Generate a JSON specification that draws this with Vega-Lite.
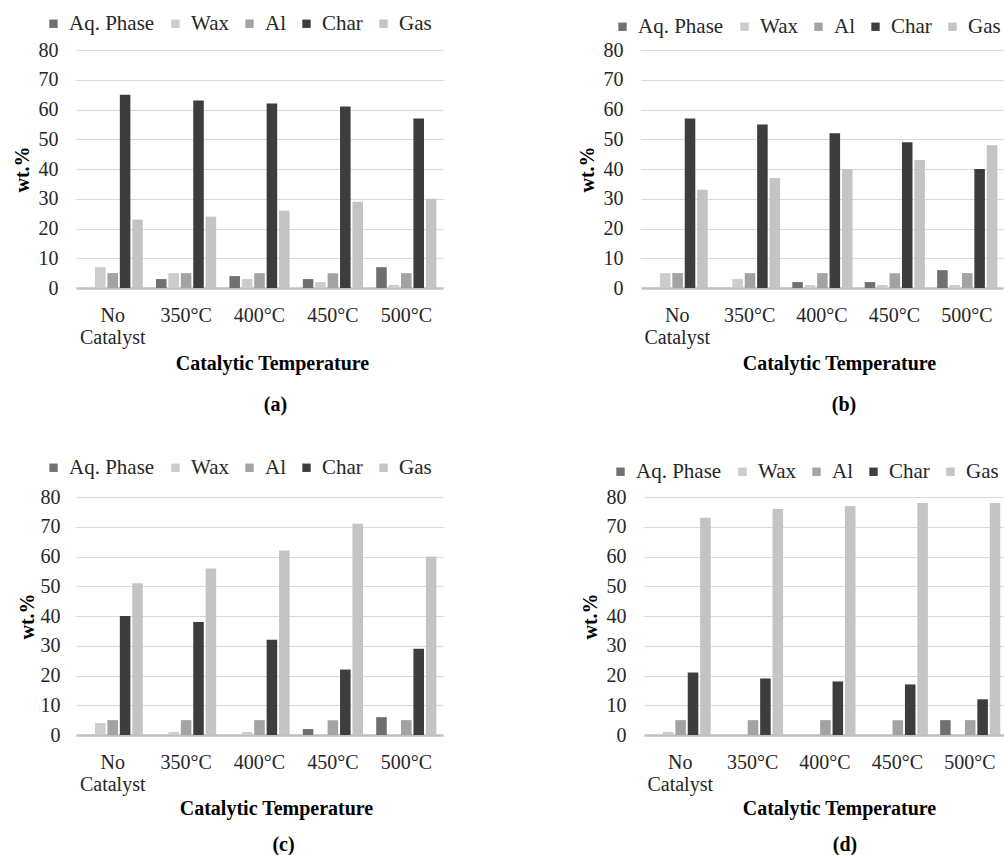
{
  "$schema": "https://vega.github.io/schema/vega-lite/v6.json",
  "padding": {"left": 12, "top": 13, "right": 0, "bottom": 0},
  "datasets": {
    "d": [
      {"panel": "a", "cat": "No Catalyst", "series": "Aq. Phase", "value": 0},
      {"panel": "a", "cat": "No Catalyst", "series": "Wax", "value": 7},
      {"panel": "a", "cat": "No Catalyst", "series": "Al", "value": 5},
      {"panel": "a", "cat": "No Catalyst", "series": "Char", "value": 65},
      {"panel": "a", "cat": "No Catalyst", "series": "Gas", "value": 23},
      {"panel": "a", "cat": "350°C", "series": "Aq. Phase", "value": 3},
      {"panel": "a", "cat": "350°C", "series": "Wax", "value": 5},
      {"panel": "a", "cat": "350°C", "series": "Al", "value": 5},
      {"panel": "a", "cat": "350°C", "series": "Char", "value": 63},
      {"panel": "a", "cat": "350°C", "series": "Gas", "value": 24},
      {"panel": "a", "cat": "400°C", "series": "Aq. Phase", "value": 4},
      {"panel": "a", "cat": "400°C", "series": "Wax", "value": 3},
      {"panel": "a", "cat": "400°C", "series": "Al", "value": 5},
      {"panel": "a", "cat": "400°C", "series": "Char", "value": 62},
      {"panel": "a", "cat": "400°C", "series": "Gas", "value": 26},
      {"panel": "a", "cat": "450°C", "series": "Aq. Phase", "value": 3},
      {"panel": "a", "cat": "450°C", "series": "Wax", "value": 2},
      {"panel": "a", "cat": "450°C", "series": "Al", "value": 5},
      {"panel": "a", "cat": "450°C", "series": "Char", "value": 61},
      {"panel": "a", "cat": "450°C", "series": "Gas", "value": 29},
      {"panel": "a", "cat": "500°C", "series": "Aq. Phase", "value": 7},
      {"panel": "a", "cat": "500°C", "series": "Wax", "value": 1},
      {"panel": "a", "cat": "500°C", "series": "Al", "value": 5},
      {"panel": "a", "cat": "500°C", "series": "Char", "value": 57},
      {"panel": "a", "cat": "500°C", "series": "Gas", "value": 30},

      {"panel": "b", "cat": "No Catalyst", "series": "Aq. Phase", "value": 0},
      {"panel": "b", "cat": "No Catalyst", "series": "Wax", "value": 5},
      {"panel": "b", "cat": "No Catalyst", "series": "Al", "value": 5},
      {"panel": "b", "cat": "No Catalyst", "series": "Char", "value": 57},
      {"panel": "b", "cat": "No Catalyst", "series": "Gas", "value": 33},
      {"panel": "b", "cat": "350°C", "series": "Aq. Phase", "value": 0},
      {"panel": "b", "cat": "350°C", "series": "Wax", "value": 3},
      {"panel": "b", "cat": "350°C", "series": "Al", "value": 5},
      {"panel": "b", "cat": "350°C", "series": "Char", "value": 55},
      {"panel": "b", "cat": "350°C", "series": "Gas", "value": 37},
      {"panel": "b", "cat": "400°C", "series": "Aq. Phase", "value": 2},
      {"panel": "b", "cat": "400°C", "series": "Wax", "value": 1},
      {"panel": "b", "cat": "400°C", "series": "Al", "value": 5},
      {"panel": "b", "cat": "400°C", "series": "Char", "value": 52},
      {"panel": "b", "cat": "400°C", "series": "Gas", "value": 40},
      {"panel": "b", "cat": "450°C", "series": "Aq. Phase", "value": 2},
      {"panel": "b", "cat": "450°C", "series": "Wax", "value": 1},
      {"panel": "b", "cat": "450°C", "series": "Al", "value": 5},
      {"panel": "b", "cat": "450°C", "series": "Char", "value": 49},
      {"panel": "b", "cat": "450°C", "series": "Gas", "value": 43},
      {"panel": "b", "cat": "500°C", "series": "Aq. Phase", "value": 6},
      {"panel": "b", "cat": "500°C", "series": "Wax", "value": 1},
      {"panel": "b", "cat": "500°C", "series": "Al", "value": 5},
      {"panel": "b", "cat": "500°C", "series": "Char", "value": 40},
      {"panel": "b", "cat": "500°C", "series": "Gas", "value": 48},

      {"panel": "c", "cat": "No Catalyst", "series": "Aq. Phase", "value": 0},
      {"panel": "c", "cat": "No Catalyst", "series": "Wax", "value": 4},
      {"panel": "c", "cat": "No Catalyst", "series": "Al", "value": 5},
      {"panel": "c", "cat": "No Catalyst", "series": "Char", "value": 40},
      {"panel": "c", "cat": "No Catalyst", "series": "Gas", "value": 51},
      {"panel": "c", "cat": "350°C", "series": "Aq. Phase", "value": 0},
      {"panel": "c", "cat": "350°C", "series": "Wax", "value": 1},
      {"panel": "c", "cat": "350°C", "series": "Al", "value": 5},
      {"panel": "c", "cat": "350°C", "series": "Char", "value": 38},
      {"panel": "c", "cat": "350°C", "series": "Gas", "value": 56},
      {"panel": "c", "cat": "400°C", "series": "Aq. Phase", "value": 0},
      {"panel": "c", "cat": "400°C", "series": "Wax", "value": 1},
      {"panel": "c", "cat": "400°C", "series": "Al", "value": 5},
      {"panel": "c", "cat": "400°C", "series": "Char", "value": 32},
      {"panel": "c", "cat": "400°C", "series": "Gas", "value": 62},
      {"panel": "c", "cat": "450°C", "series": "Aq. Phase", "value": 2},
      {"panel": "c", "cat": "450°C", "series": "Wax", "value": 0},
      {"panel": "c", "cat": "450°C", "series": "Al", "value": 5},
      {"panel": "c", "cat": "450°C", "series": "Char", "value": 22},
      {"panel": "c", "cat": "450°C", "series": "Gas", "value": 71},
      {"panel": "c", "cat": "500°C", "series": "Aq. Phase", "value": 6},
      {"panel": "c", "cat": "500°C", "series": "Wax", "value": 0},
      {"panel": "c", "cat": "500°C", "series": "Al", "value": 5},
      {"panel": "c", "cat": "500°C", "series": "Char", "value": 29},
      {"panel": "c", "cat": "500°C", "series": "Gas", "value": 60},

      {"panel": "d", "cat": "No Catalyst", "series": "Aq. Phase", "value": 0},
      {"panel": "d", "cat": "No Catalyst", "series": "Wax", "value": 1},
      {"panel": "d", "cat": "No Catalyst", "series": "Al", "value": 5},
      {"panel": "d", "cat": "No Catalyst", "series": "Char", "value": 21},
      {"panel": "d", "cat": "No Catalyst", "series": "Gas", "value": 73},
      {"panel": "d", "cat": "350°C", "series": "Aq. Phase", "value": 0},
      {"panel": "d", "cat": "350°C", "series": "Wax", "value": 0},
      {"panel": "d", "cat": "350°C", "series": "Al", "value": 5},
      {"panel": "d", "cat": "350°C", "series": "Char", "value": 19},
      {"panel": "d", "cat": "350°C", "series": "Gas", "value": 76},
      {"panel": "d", "cat": "400°C", "series": "Aq. Phase", "value": 0},
      {"panel": "d", "cat": "400°C", "series": "Wax", "value": 0},
      {"panel": "d", "cat": "400°C", "series": "Al", "value": 5},
      {"panel": "d", "cat": "400°C", "series": "Char", "value": 18},
      {"panel": "d", "cat": "400°C", "series": "Gas", "value": 77},
      {"panel": "d", "cat": "450°C", "series": "Aq. Phase", "value": 0},
      {"panel": "d", "cat": "450°C", "series": "Wax", "value": 0},
      {"panel": "d", "cat": "450°C", "series": "Al", "value": 5},
      {"panel": "d", "cat": "450°C", "series": "Char", "value": 17},
      {"panel": "d", "cat": "450°C", "series": "Gas", "value": 78},
      {"panel": "d", "cat": "500°C", "series": "Aq. Phase", "value": 5},
      {"panel": "d", "cat": "500°C", "series": "Wax", "value": 0},
      {"panel": "d", "cat": "500°C", "series": "Al", "value": 5},
      {"panel": "d", "cat": "500°C", "series": "Char", "value": 12},
      {"panel": "d", "cat": "500°C", "series": "Gas", "value": 78}
    ]
  },
  "config": {
    "font": "Liberation Serif",
    "view": {"stroke": null},
    "axisX": {
      "domainColor": "#bfbfbf", "domainWidth": 2.5, "ticks": false, "grid": false,
      "labelFontSize": 20, "labelColor": "#262626", "labelPadding": 17, "labelAngle": 0, "labelLineHeight": 22,
      "titleFontSize": 20, "titleFontWeight": "bold", "titleColor": "#000000", "titlePadding": 6
    },
    "axisY": {
      "domain": false, "ticks": false, "grid": true, "gridColor": "#d9d9d9", "gridWidth": 1,
      "labelFontSize": 20, "labelColor": "#262626", "labelPadding": 18,
      "titleFontSize": 20, "titleFontWeight": "bold", "titleColor": "#000000", "titlePadding": 6
    },
    "legend": {
      "orient": "none", "direction": "horizontal", "title": null,
      "labelFontSize": 21, "labelColor": "#262626",
      "symbolType": "square", "symbolSize": 70, "symbolStrokeWidth": 0, "labelOffset": 5, "columnPadding": 10
    },
    "title": {"fontSize": 20, "fontWeight": "bold", "color": "#000000"}
  },
  "resolve": {"scale": {"color": "independent"}, "legend": {"color": "independent"}},
  "spacing": 42,
  "vconcat": [
    {
      "spacing": 134,
      "resolve": {"scale": {"color": "independent"}, "legend": {"color": "independent"}},
      "hconcat": [
        {
          "width": 367, "height": 238,
          "data": {"name": "d"},
          "transform": [{"filter": "datum.panel == 'a'"}],
          "title": {"text": "(a)", "orient": "bottom", "offset": 22, "dx": 16, "font": "Liberation Serif", "fontWeight": "bold"},
          "mark": {"type": "bar"},
          "encoding": {
            "x": {"field": "cat", "type": "nominal", "sort": ["No Catalyst", "350°C", "400°C", "450°C", "500°C"], "scale": {"paddingInner": 0.18, "paddingOuter": 0.09}, "axis": {"title": "Catalytic Temperature", "labelExpr": "split(datum.label, ' ')", "titleX": 196, "labelFont": "Liberation Serif", "titleFont": "Liberation Serif", "titleFontWeight": "bold"}},
            "xOffset": {"field": "series", "type": "nominal", "sort": ["Aq. Phase", "Wax", "Al", "Char", "Gas"], "scale": {"paddingInner": 0.15}},
            "y": {"field": "value", "type": "quantitative", "scale": {"domain": [0, 80]}, "axis": {"title": "wt.%", "values": [0, 10, 20, 30, 40, 50, 60, 70, 80], "labelFont": "Liberation Serif", "titleFont": "Liberation Serif", "titleFontWeight": "bold"}},
            "color": {"field": "series", "type": "nominal", "sort": ["Aq. Phase", "Wax", "Al", "Char", "Gas"], "scale": {"domain": ["Aq. Phase", "Wax", "Al", "Char", "Gas"], "range": ["#707070", "#cccccc", "#a3a3a3", "#3d3d3d", "#c4c4c4"]}, "legend": {"legendX": -33, "legendY": -37, "labelFont": "Liberation Serif"}}
          }
        },
        {
          "width": 362, "height": 238,
          "data": {"name": "d"},
          "transform": [{"filter": "datum.panel == 'b'"}],
          "title": {"text": "(b)", "orient": "bottom", "offset": 22, "dx": 22, "font": "Liberation Serif", "fontWeight": "bold"},
          "mark": {"type": "bar"},
          "encoding": {
            "x": {"field": "cat", "type": "nominal", "sort": ["No Catalyst", "350°C", "400°C", "450°C", "500°C"], "scale": {"paddingInner": 0.18, "paddingOuter": 0.09}, "axis": {"title": "Catalytic Temperature", "labelExpr": "split(datum.label, ' ')", "titleX": 198, "labelFont": "Liberation Serif", "titleFont": "Liberation Serif", "titleFontWeight": "bold"}},
            "xOffset": {"field": "series", "type": "nominal", "sort": ["Aq. Phase", "Wax", "Al", "Char", "Gas"], "scale": {"paddingInner": 0.15}},
            "y": {"field": "value", "type": "quantitative", "scale": {"domain": [0, 80]}, "axis": {"title": "wt.%", "values": [0, 10, 20, 30, 40, 50, 60, 70, 80], "labelFont": "Liberation Serif", "titleFont": "Liberation Serif", "titleFontWeight": "bold"}},
            "color": {"field": "series", "type": "nominal", "sort": ["Aq. Phase", "Wax", "Al", "Char", "Gas"], "scale": {"domain": ["Aq. Phase", "Wax", "Al", "Char", "Gas"], "range": ["#707070", "#cccccc", "#a3a3a3", "#3d3d3d", "#c4c4c4"]}, "legend": {"legendX": -29, "legendY": -34, "labelFont": "Liberation Serif"}}
          }
        }
      ]
    },
    {
      "spacing": 137,
      "resolve": {"scale": {"color": "independent"}, "legend": {"color": "independent"}},
      "hconcat": [
        {
          "width": 367, "height": 238,
          "data": {"name": "d"},
          "transform": [{"filter": "datum.panel == 'c'"}],
          "title": {"text": "(c)", "orient": "bottom", "offset": 17, "dx": 24, "font": "Liberation Serif", "fontWeight": "bold"},
          "mark": {"type": "bar"},
          "encoding": {
            "x": {"field": "cat", "type": "nominal", "sort": ["No Catalyst", "350°C", "400°C", "450°C", "500°C"], "scale": {"paddingInner": 0.18, "paddingOuter": 0.09}, "axis": {"title": "Catalytic Temperature", "labelExpr": "split(datum.label, ' ')", "titleX": 200, "titlePadding": 4, "labelFont": "Liberation Serif", "titleFont": "Liberation Serif", "titleFontWeight": "bold"}},
            "xOffset": {"field": "series", "type": "nominal", "sort": ["Aq. Phase", "Wax", "Al", "Char", "Gas"], "scale": {"paddingInner": 0.15}},
            "y": {"field": "value", "type": "quantitative", "scale": {"domain": [0, 80]}, "axis": {"title": "wt.%", "values": [0, 10, 20, 30, 40, 50, 60, 70, 80], "labelPadding": 16, "titlePadding": 3, "labelFont": "Liberation Serif", "titleFont": "Liberation Serif", "titleFontWeight": "bold"}},
            "color": {"field": "series", "type": "nominal", "sort": ["Aq. Phase", "Wax", "Al", "Char", "Gas"], "scale": {"domain": ["Aq. Phase", "Wax", "Al", "Char", "Gas"], "range": ["#707070", "#cccccc", "#a3a3a3", "#3d3d3d", "#c4c4c4"]}, "legend": {"legendX": -33, "legendY": -40, "labelFont": "Liberation Serif"}}
          }
        },
        {
          "width": 362, "height": 238,
          "data": {"name": "d"},
          "transform": [{"filter": "datum.panel == 'd'"}],
          "title": {"text": "(d)", "orient": "bottom", "offset": 17, "dx": 20, "font": "Liberation Serif", "fontWeight": "bold"},
          "mark": {"type": "bar"},
          "encoding": {
            "x": {"field": "cat", "type": "nominal", "sort": ["No Catalyst", "350°C", "400°C", "450°C", "500°C"], "scale": {"paddingInner": 0.18, "paddingOuter": 0.09}, "axis": {"title": "Catalytic Temperature", "labelExpr": "split(datum.label, ' ')", "titleX": 195, "titlePadding": 4, "labelFont": "Liberation Serif", "titleFont": "Liberation Serif", "titleFontWeight": "bold"}},
            "xOffset": {"field": "series", "type": "nominal", "sort": ["Aq. Phase", "Wax", "Al", "Char", "Gas"], "scale": {"paddingInner": 0.15}},
            "y": {"field": "value", "type": "quantitative", "scale": {"domain": [0, 80]}, "axis": {"title": "wt.%", "values": [0, 10, 20, 30, 40, 50, 60, 70, 80], "labelFont": "Liberation Serif", "titleFont": "Liberation Serif", "titleFontWeight": "bold"}},
            "color": {"field": "series", "type": "nominal", "sort": ["Aq. Phase", "Wax", "Al", "Char", "Gas"], "scale": {"domain": ["Aq. Phase", "Wax", "Al", "Char", "Gas"], "range": ["#707070", "#cccccc", "#a3a3a3", "#3d3d3d", "#c4c4c4"]}, "legend": {"legendX": -34, "legendY": -36, "labelFont": "Liberation Serif"}}
          }
        }
      ]
    }
  ]
}
